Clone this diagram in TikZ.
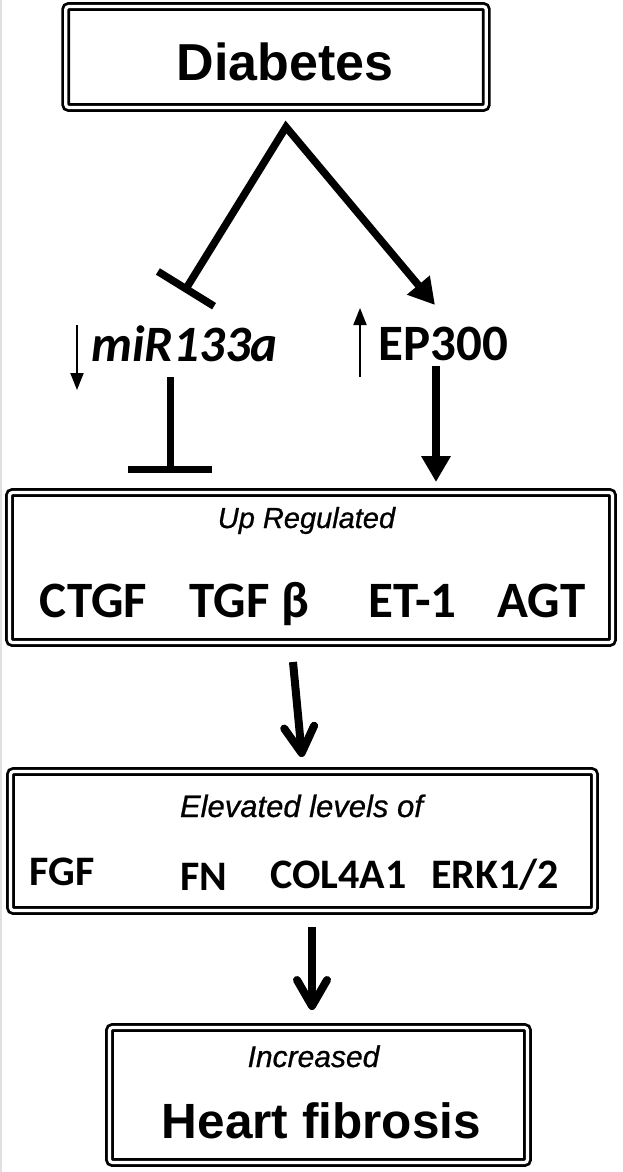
\documentclass[tikz,border=0pt]{standalone}
\usepackage{fontspec}
\setmainfont{Liberation Sans}
\newfontfamily\carl{Carlito}
\newfontfamily\headit[FakeBold=0.7]{Liberation Sans}
\usetikzlibrary{arrows.meta,calc}
\tikzset{
  box/.style={draw, line width=2.8pt, double=white, double distance=3.2pt,
    rounded corners=3pt, inner sep=0pt},
  bigtxt/.style={anchor=base, font=\bfseries\fontsize{#1}{#1}\selectfont},
  geneB/.style={anchor=base, font=\carl\bfseries\fontsize{#1}{#1}\selectfont},
  headtxt/.style={anchor=base, font=\headit\itshape\fontsize{#1}{#1}\selectfont},
  thinarrow/.style={line width=2pt, -{Triangle[length=17pt,width=13pt]}},
  chevron/.style={line width=8pt, -{Straight Barb[round,length=26pt,width=30pt]}},
}
\begin{document}
\begin{tikzpicture}[x=1pt,y=-1pt]
\fill[white] (0,0) rectangle (622,1172);
\useasboundingbox (0,0) rectangle (622,1172);
\draw[black!12, line width=2pt] (1,0) -- (1,1172);

% boxes
\node[box, minimum width=420.5pt, minimum height=101pt] (diab) at (276,57) {};
\node[box, minimum width=603pt, minimum height=150pt] (up) at (311,567.5) {};
\node[box, minimum width=584pt, minimum height=139pt] (elev) at (302.5,841) {};
\node[box, minimum width=418pt, minimum height=135pt] (heart) at (318.5,1095) {};

% texts
\node[bigtxt=52] (diabt) at (285,81) {Diabetes};
\node[geneB=51, font=\carl\bfseries\itshape\fontsize{51}{51}\selectfont] (mir) at (184.5,361) {miR133a};
\node[geneB=51] (ep) at (443.5,360) {EP300};

\node[headtxt=29] (upt) at (306.5,528) {Up Regulated};
\node[geneB=51] (ctgf) at (93.5,617) {CTGF};
\node[geneB=51] (tgfb) at (249.5,617) {TGF β};
\node[geneB=51] (et1) at (412.5,617) {ET-1};
\node[geneB=51] (agt) at (541.5,617) {AGT};

\node[headtxt=31] (elt) at (301.5,817) {Elevated levels of};
\node[geneB=42] (fgf) at (62.5,885) {FGF};
\node[geneB=42] (fn) at (204,890) {FN};
\node[geneB=42] (col) at (338.5,888) {COL4A1};
\node[geneB=42] (erk) at (495,888) {ERK1/2};

\node[headtxt=30] (inct) at (313.5,1067) {Increased};
\node[bigtxt=49.5] (hf) at (321.5,1138) {Heart fibrosis};

% connector points
\coordinate (apex) at (286,127);
\coordinate (mirbar) at (184,292);
\coordinate (eptip) at (435,305);
\coordinate (m1) at (170,377);
\coordinate (m2) at (170,473);
\coordinate (e1) at (436,366);
\coordinate (e2) at (436,482);
\coordinate (d1) at (77,325);
\coordinate (d2) at (77,390);
\coordinate (u1) at (360,377);
\coordinate (u2) at (360,308);
\coordinate (a1) at (293,662);
\coordinate (a2) at (302,757);
\coordinate (b1) at (312,927);
\coordinate (b2) at (312,1010);

% connectors
\draw[line width=7.5pt, line join=miter,
  {Bar[width=66pt]}-{Triangle[length=26pt,width=28pt]}] (mirbar) -- (apex) -- (eptip);
\draw[line width=7pt, -{Bar[width=84pt]}] (m1) -- (m2);
\draw[line width=8pt, -{Triangle[length=26pt,width=28pt]}] (e1) -- (e2);
\draw[thinarrow] (d1) -- (d2);
\draw[thinarrow] (u1) -- (u2);
\draw[chevron] (a1) -- (a2);
\draw[chevron] (b1) -- (b2);
\end{tikzpicture}
\end{document}
